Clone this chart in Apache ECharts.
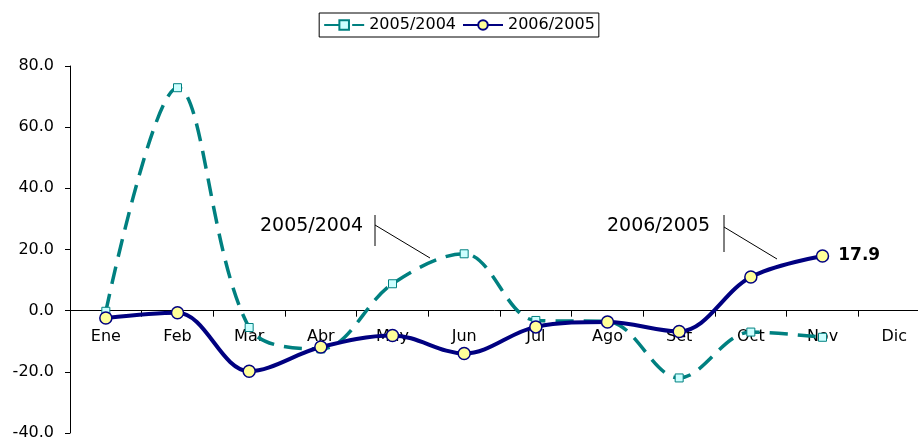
<!DOCTYPE html>
<html>
<head>
<meta charset="utf-8">
<script src="https://cdn.jsdelivr.net/npm/echarts@6/dist/echarts.min.js"></script>
<style>
html,body{margin:0;padding:0;background:#fff;}
#chart{width:918px;height:438px;}
</style>
</head>
<body>
<div id="chart"></div>
<script>
const months = ['Ene','Feb','Mar','Abr','May','Jun','Jul','Ago','Set','Oct','Nov','Dic'];
const s2005_2004 = [-0.2, 72.9, -5.5, -12.5, 8.8, 18.6, -3.2, -3.5, -22.0, -7.0, -8.7, null];
const s2006_2005 = [-2.4, -0.7, -19.8, -11.9, -8.1, -14.0, -5.3, -3.7, -6.8, 11.0, 17.9, null];
const yTicks = [-40, -20, 0, 20, 40, 60, 80];

const FONT = 'DejaVu Sans';
const lastIdx = s2006_2005.reduce((a, v, i) => (v !== null ? i : a), 0);

const GRID_TOP = 66, GRID_BOTTOM = 5, H = 438;
const yMin = yTicks[0], yMax = yTicks[yTicks.length - 1];
const gridH = H - GRID_TOP - GRID_BOTTOM;
const zeroOffset = -gridH * (0 - yMin) / (yMax - yMin);

const chart = echarts.init(document.getElementById('chart'));
chart.setOption({
  animation: false,
  textStyle: { fontFamily: FONT },
  grid: { left: 70, top: GRID_TOP, width: 860, bottom: GRID_BOTTOM, containLabel: false, outerBoundsMode: 'none' },
  legend: {
    top: 13,
    left: 'center',
    borderColor: '#000',
    borderWidth: 1,
    padding: [4, 4],
    itemGap: 6,
    itemWidth: 40,
    itemHeight: 12,
    textStyle: { fontFamily: FONT, fontSize: 16, color: '#000' },
    data: ['2005/2004', '2006/2005']
  },
  xAxis: {
    type: 'category',
    data: months,
    boundaryGap: true,
    position: 'bottom',
    offset: zeroOffset,
    axisLine: { onZero: false, lineStyle: { color: '#000', width: 1 } },
    axisTick: { show: true, length: 6, interval: 0, lineStyle: { color: '#000' } },
    axisLabel: { interval: 0, margin: 18, fontFamily: FONT, fontSize: 16, color: '#000' },
    splitLine: { show: false }
  },
  yAxis: {
    type: 'value',
    min: yMin,
    max: yMax,
    interval: yTicks[1] - yTicks[0],
    axisLine: { show: true, onZero: false, lineStyle: { color: '#000', width: 1 } },
    axisTick: { show: true, length: 5, lineStyle: { color: '#000' } },
    axisLabel: { margin: 16, fontFamily: FONT, fontSize: 16, color: '#000',
      formatter: v => v.toFixed(1) },
    splitLine: { show: false }
  },
  series: [
    {
      name: '2005/2004',
      type: 'line',
      smooth: 0.35,
      data: s2005_2004,
      symbol: 'rect',
      symbolSize: 8,
      z: 2,
      lineStyle: { color: '#008080', width: 3.5, type: [18, 10] },
      itemStyle: { color: '#CCFFFF', borderColor: '#008080', borderWidth: 1 }
    },
    {
      name: '2006/2005',
      type: 'line',
      smooth: 0.35,
      z: 3,
      data: s2006_2005.map((v, i) => i === lastIdx ? {
        value: v,
        label: { show: true, position: 'right', distance: 9, fontFamily: FONT,
          fontSize: 17, fontWeight: 'bold', color: '#000',
          formatter: p => Number(p.value).toFixed(1) }
      } : v),
      symbol: 'circle',
      symbolSize: 12,
      lineStyle: { color: '#000080', width: 4 },
      itemStyle: { color: '#FFFF99', borderColor: '#000080', borderWidth: 1.5 }
    }
  ],
  graphic: [
    { type: 'text', left: 260, top: 217, style: { text: '2005/2004', fontFamily: FONT, fontSize: 19, fill: '#000' } },
    { type: 'line', shape: { x1: 375, y1: 215, x2: 375, y2: 246 }, style: { stroke: '#000', lineWidth: 1 } },
    { type: 'line', shape: { x1: 375, y1: 225, x2: 430, y2: 258 }, style: { stroke: '#000', lineWidth: 1 } },
    { type: 'text', left: 607, top: 217, style: { text: '2006/2005', fontFamily: FONT, fontSize: 19, fill: '#000' } },
    { type: 'line', shape: { x1: 724, y1: 215, x2: 724, y2: 252 }, style: { stroke: '#000', lineWidth: 1 } },
    { type: 'line', shape: { x1: 724, y1: 227, x2: 777, y2: 259 }, style: { stroke: '#000', lineWidth: 1 } }
  ]
});
</script>
</body>
</html>
